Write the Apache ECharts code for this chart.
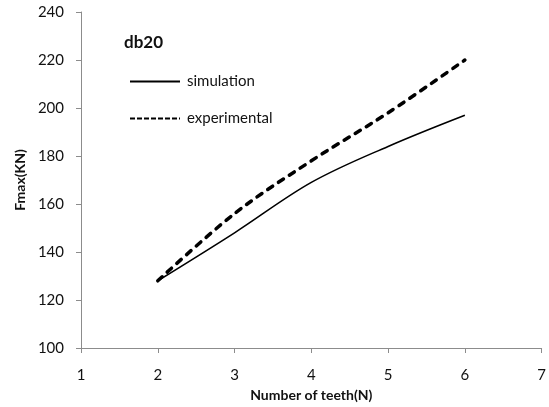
<!DOCTYPE html>
<html>
<head>
<meta charset="utf-8">
<script src="https://cdn.jsdelivr.net/npm/echarts@6/dist/echarts.min.js"></script>
<style>
  html, body { margin: 0; padding: 0; background: #fff; }
  #chart { width: 549px; height: 407px; }
</style>
</head>
<body>
<div id="chart"></div>
<script>
// number of teeth
const teeth = [2, 3, 4, 5, 6]
// Fmax (KN)
const simulation = [128, 148, 169, 184, 197]
const experimental = [128, 156, 178, 198, 220]

const toPairs = (xs, ys) => xs.map((x, i) => [x, ys[i]])

const axisColor = '#8c8c8c'
const font = 'Lato, "Open Sans", sans-serif'

let myChart = echarts.init(document.getElementById('chart'), null, {renderer: 'canvas'})
let option = {
  backgroundColor: '#ffffff',
  animation: false,
  title: {
    text: 'db20',
    left: 119,
    top: 29,
    textStyle: {
      color: '#111',
      fontSize: 17,
      fontWeight: 'bold',
      fontFamily: font
    }
  },
  legend: {
    orient: 'vertical',
    left: 124,
    top: 69,
    itemWidth: 50,
    itemHeight: 14,
    itemGap: 22,
    itemStyle: {opacity: 0},
    textStyle: {
      color: '#111',
      fontSize: 15,
      fontFamily: font,
      padding: [0, 0, 0, 2]
    },
    data: [
      {name: 'simulation', itemStyle: {opacity: 0}, lineStyle: {width: 2}},
      {name: 'experimental', itemStyle: {opacity: 0}, lineStyle: {width: 2, type: [5, 2], cap: 'butt'}}
    ]
  },
  grid: {
    left: 81,
    right: 6,
    top: 12,
    bottom: 59,
    containLabel: false
  },
  xAxis: {
    type: 'value',
    min: 1,
    max: 7,
    interval: 1,
    name: 'Number of teeth(N)',
    nameLocation: 'middle',
    nameGap: 40,
    nameTextStyle: {
      color: '#111',
      fontSize: 14,
      fontWeight: 'bold',
      fontFamily: font
    },
    axisLine: {show: true, lineStyle: {color: axisColor, width: 1}},
    axisTick: {show: true, length: 5, lineStyle: {color: axisColor}},
    axisLabel: {
      color: '#111',
      fontSize: 15,
      margin: 20,
      fontFamily: font
    },
    splitLine: {show: false}
  },
  yAxis: {
    type: 'value',
    min: 100,
    max: 240,
    interval: 20,
    name: 'Fmax(KN)',
    nameLocation: 'middle',
    nameGap: 50,
    nameTextStyle: {
      color: '#111',
      fontSize: 14,
      fontWeight: 'bold',
      fontFamily: font
    },
    axisLine: {show: true, lineStyle: {color: axisColor, width: 1}},
    axisTick: {show: true, length: 5, lineStyle: {color: axisColor}},
    axisLabel: {
      color: '#111',
      fontSize: 15,
      margin: 17,
      fontFamily: font
    },
    splitLine: {show: false}
  },
  series: [
    {
      name: 'simulation',
      type: 'line',
      smooth: 0.35,
      symbol: 'none',
      lineStyle: {color: '#000', width: 1.6},
      itemStyle: {color: '#000'},
      data: toPairs(teeth, simulation)
    },
    {
      name: 'experimental',
      type: 'line',
      smooth: 0.35,
      symbol: 'none',
      lineStyle: {color: '#000', width: 3.5, type: [6, 7], cap: 'round'},
      itemStyle: {color: '#000'},
      data: toPairs(teeth, experimental)
    }
  ]
}
myChart.setOption(option)
</script>
</body>
</html>
